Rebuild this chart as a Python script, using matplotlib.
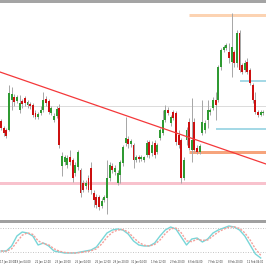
import matplotlib
matplotlib.use("Agg")
import matplotlib.pyplot as plt
from matplotlib.patches import Rectangle

# ---------------- data ----------------
opens = [99, 92, 90, 90, 120, 123, 119, 110, 119, 122, 115, 116, 115, 107, 103, 107, 110, 121, 119, 107,
         100, 104, 112, 54, 58, 55, 63, 60, 47, 53, 50, 37, 34, 42, 52, 27, 23, 23, 14, 20,
         22, 42, 54, 48, 37, 45, 57, 77, 81, 76, 75, 60, 63, 61, 60, 65, 78, 67, 77, 68,
         82, 87, 100, 110, 97, 108, 107, 85, 80, 42, 80, 98, 70, 98, 72, 68, 87, 90, 100, 108,
         112, 120, 120, 153, 170, 172, 168, 158, 168, 157, 187, 155, 150, 158, 150, 135, 120, 108, 105, 107]
closes = [92, 87, 84, 127, 126, 118, 123, 117, 116, 117, 118, 114, 105, 103, 106, 110, 120, 117, 108, 112,
          104, 111, 75, 64, 63, 62, 58, 42, 55, 68, 27, 30, 37, 30, 30, 20, 15, 13, 19, 23,
          42, 55, 50, 52, 47, 58, 73, 82, 76, 79, 60, 63, 61, 63, 63, 77, 65, 75, 65, 75,
          90, 100, 110, 107, 103, 102, 78, 75, 42, 60, 90, 72, 80, 70, 68, 74, 98, 97, 110, 110,
          120, 115, 153, 170, 173, 175, 162, 173, 157, 187, 150, 148, 157, 148, 137, 120, 108, 105, 108, 108]
highs = [101, 94, 92, 135, 133, 126, 125, 125, 121, 124, 120, 118, 117, 110, 108, 114, 128, 124, 121, 114,
         107, 114, 116, 68, 65, 65, 70, 62, 58, 70, 52, 40, 40, 45, 58, 30, 26, 25, 22, 25,
         60, 58, 57, 55, 50, 60, 75, 103, 84, 81, 77, 65, 65, 65, 64, 80, 80, 79, 80, 77,
         92, 110, 115, 113, 105, 110, 109, 90, 82, 63, 93, 102, 122, 102, 75, 76, 120, 100, 120, 112,
         123, 128, 155, 172, 175, 177, 177, 207, 170, 190, 190, 157, 160, 162, 152, 137, 128, 110, 110, 110]
lows = [90, 84, 82, 89, 110, 114, 117, 107, 112, 114, 112, 111, 103, 101, 101, 105, 108, 114, 106, 105,
        98, 102, 72, 44, 55, 52, 55, 38, 44, 50, 23, 28, 31, 28, 26, 13, 12, 10, 12, 18,
        6, 39, 47, 45, 35, 37, 54, 74, 72, 73, 52, 58, 58, 59, 58, 63, 62, 64, 62, 66,
        80, 85, 98, 105, 94, 100, 75, 72, 37, 40, 75, 70, 58, 68, 66, 66, 85, 87, 92, 105,
        110, 100, 118, 150, 168, 170, 157, 143, 153, 153, 148, 146, 148, 146, 135, 117, 106, 103, 104, 105]

# stochastic oscillator (every 2nd bar)
stoch_k = [22.5, 22.5, 35, 60, 70, 67.5, 60, 37.5, 42.5, 35, 22.5, 20, 17.5, 17.5, 17.5, 20, 22.5, 25, 32.5, 50,
           67.5, 75, 77.5, 75, 65, 47.5, 37.5, 35, 35, 42.5, 60, 75, 82.5, 77.5, 57.5, 37.5, 52.5, 55, 45, 52.5,
           67.5, 75, 80, 85, 82.5, 75, 60, 37.5, 15, 5]
stoch_d = [22.5, 22, 28, 45, 62, 68, 64, 48, 41, 38, 28, 22, 19, 18, 17.5, 18.5, 21, 23, 28, 40,
           57, 69, 75, 76, 70, 56, 44, 37, 35, 39, 50, 66, 78, 80, 68, 48, 46, 52, 49, 50,
           60, 70, 77, 82, 83, 79, 68, 50, 28, 12]
stoch_levels = [80, 20]

# levels / drawings (price, first bar)
gray_level = 114
pink_level = 37
orange_level = (68, 71)
top_level = (205, 71)
blue_levels = [(139, 90), (91, 81)]
trend_start = (-0.4, 148)
trend_end = (100.0, 56)

tick_pos = [-0.3, 5.3, 12.9, 20.4, 28.0, 35.5, 42.3, 49.1, 56.6, 63.8, 70.6, 78.1, 85.7, 93.0]
tick_labels = ["17 Jan 20:00", "19 Jan 04:00", "22 Jan 12:00", "23 Jan 20:00", "25 Jan 04:00",
               "26 Jan 12:00", "29 Jan 20:00", "31 Jan 04:00", "1 Feb 12:00", "2 Feb 20:00",
               "6 Feb 04:00", "7 Feb 12:00", "8 Feb 20:00", "12 Feb 04:00"]

# ---------------- figure ----------------
W = H = 266
fig = plt.figure(figsize=(W / 100, H / 100), dpi=100)
fig.patch.set_facecolor("white")


def fy(px):
    return 1 - px / H


xmin, xmax = -0.38, 100.0

main = fig.add_axes([0, fy(220), 1, (220 - 3) / H])
main.set_xlim(xmin, xmax)
main.set_ylim(0, 217)
main.axis("off")

GREEN = "#2f9a32"
RED = "#cc1010"
WICK = "#a8a8a8"

lw1 = 72 / 100  # 1 px in points

main.axhline(gray_level, color="#dcdcdc", lw=lw1, zorder=1)
main.axhline(pink_level, color="#f8c2cd", lw=3 * lw1, zorder=1)
main.plot([orange_level[1], xmax], [orange_level[0]] * 2, color="#f6a47c", lw=3 * lw1, zorder=1,
          solid_capstyle="butt")
main.plot([top_level[1], xmax], [top_level[0]] * 2, color="#fcd3b2", lw=3 * lw1, zorder=1,
          solid_capstyle="butt")
for lv, stt in blue_levels:
    main.plot([stt, xmax], [lv, lv], color="#a5d9e6", lw=2 * lw1, zorder=1, solid_capstyle="butt")

for i, (o, c, h, l) in enumerate(zip(opens, closes, highs, lows)):
    main.plot([i, i], [l, h], color=WICK, lw=lw1, zorder=2, solid_capstyle="butt")
    col = GREEN if c >= o else RED
    lo, hi = min(o, c), max(o, c)
    main.add_patch(Rectangle((i - 0.36, lo), 0.72, max(hi - lo, 1.0), facecolor=col,
                             edgecolor="none", zorder=3))

main.plot([trend_start[0], trend_end[0]], [trend_start[1], trend_end[1]], color="#f4383a",
          lw=0.9, zorder=4)

# separators
fig.add_artist(Rectangle((0, fy(3)), 1, 3 / H, transform=fig.transFigure, facecolor="#a4a4a4",
                         edgecolor="none"))
fig.add_artist(Rectangle((0, fy(223)), 1, 3 / H, transform=fig.transFigure, facecolor="#a0a0a0",
                         edgecolor="none"))

# stochastic panel
st = fig.add_axes([0, fy(258.5), 1, (258.5 - 223) / H])
st.set_xlim(xmin, xmax)
st.set_ylim(3.75, 92.5)
for s in st.spines.values():
    s.set_visible(False)
st.set_yticks([])
for lv in stoch_levels:
    st.axhline(lv, color="#c8c8c8", lw=lw1, ls=(0, (1, 1.5)))
sx = list(range(0, 2 * len(stoch_k), 2))
st.plot(sx, stoch_k, color="#78d6d8", lw=1.0, clip_on=False)
st.plot(sx, stoch_d, color="#f4a09a", lw=1.0, ls=(0, (1.5, 1)), clip_on=False)
st.set_xticks(tick_pos)
st.set_xticklabels(tick_labels, fontsize=1.8, color="#333333", ha="left")
st.tick_params(axis="x", length=0, pad=1)

fig.savefig("out.png", dpi=100, facecolor="white")
